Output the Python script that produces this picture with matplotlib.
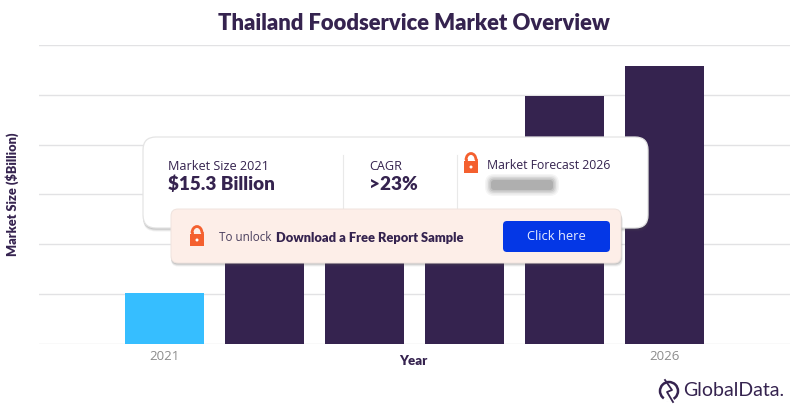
import matplotlib
matplotlib.use("Agg")
import matplotlib.pyplot as plt
from matplotlib.patches import FancyBboxPatch, Rectangle, Circle, Arc, Wedge
from matplotlib.lines import Line2D

years = ["2021", "2022", "2023", "2024", "2025", "2026"]
values = [15.3, 27.0, 36.0, 48.0, 74.6, 83.7]
tick_labels = {"2021": "2021", "2026": "2026"}
title = "Thailand Foodservice Market Overview"

NAVY = "#35234F"
CYAN = "#36BEFF"
GRID = "#E2E2E4"
ORANGE = "#F4602F"
BOLD = ["Lato", "DejaVu Sans"]
BODY = ["Open Sans", "DejaVu Sans"]

W, H = 800, 404
fig = plt.figure(figsize=(8, 4.04), dpi=100, facecolor="white")
plt.rcParams["font.family"] = BODY

left, right, top, bottom = 39, 790, 45, 343.5
ax = fig.add_axes([left / W, 1 - bottom / H, (right - left) / W, (bottom - top) / H])
pos = list(range(len(years)))
colors = [CYAN] + [NAVY] * 5
ax.bar(pos, values, width=0.79, color=colors, zorder=3)
ax.set_xlim(-1.25, 6.26)
ax.set_ylim(0, 90)
ax.set_yticks(range(0, 91, 15))
ax.set_yticklabels([])
ax.tick_params(axis="both", length=0)
ax.grid(axis="y", color=GRID, lw=1.0, zorder=0)
ax.set_axisbelow(True)
for s in ax.spines.values():
    s.set_visible(False)
ax.set_xticks(pos)
ax.set_xticklabels([tick_labels.get(y, "") for y in years], color="#8C8C8C", fontsize=9.5)
ax.tick_params(axis="x", pad=5)
ax.patch.set_alpha(0)

# Overlay in pixel coordinates
ov = fig.add_axes([0, 0, 1, 1], zorder=5)
ov.set_xlim(0, W)
ov.set_ylim(H, 0)
ov.axis("off")
ov.patch.set_alpha(0)


def rbox(x0, y0, x1, y1, r, fc, ec="none", lw=0, z=1, alpha=None):
    p = FancyBboxPatch((x0 + r, y0 + r), x1 - x0 - 2 * r, y1 - y0 - 2 * r,
                       boxstyle=f"round,pad={r},rounding_size={r}",
                       fc=fc, ec=ec, lw=lw, zorder=z, alpha=alpha)
    ov.add_patch(p)


def lock(cx, cy, z=8):
    ov.add_patch(Rectangle((cx - 7, cy - 2), 14, 11.5, fc=ORANGE, ec="none", zorder=z))
    ov.add_patch(Arc((cx, cy - 3), 10, 13, theta1=180, theta2=360, ec=ORANGE, lw=2, zorder=z))
    ov.add_line(Line2D([cx - 5, cx - 5], [cy - 3, cy - 1], color=ORANGE, lw=2, zorder=z))
    ov.add_line(Line2D([cx + 5, cx + 5], [cy - 3, cy - 1], color=ORANGE, lw=2, zorder=z))
    ov.add_patch(Circle((cx, cy + 4), 1.5, fc="white", ec="none", zorder=z + 1))


# main card
for d, a in ((3.5, .08), (2.5, .12), (1.5, .18)):
    rbox(143, 138 + d, 648 + d / 2, 228 + d, 13, "#555555", z=1, alpha=a)
rbox(143, 137, 648, 228, 13, "white", ec="#E4E4E4", lw=0.9, z=2)
ov.add_line(Line2D([342.5, 342.5], [155, 209], color="#E9E9E9", lw=0.8, zorder=3))
ov.add_line(Line2D([457, 457], [155, 209], color="#E9E9E9", lw=0.8, zorder=3))

ov.text(168, 166.5, "Market Size 2021", fontsize=9.1, color=NAVY, va="center", zorder=4)
ov.text(168, 184, "$15.3 Billion", fontsize=13.6, weight="heavy", color=NAVY, va="center", zorder=4, family=BOLD)
ov.text(369, 166.5, "CAGR", fontsize=9.1, color=NAVY, va="center", zorder=4)
ov.text(369, 184.5, ">23%", fontsize=13.6, weight="heavy", color=NAVY, va="center", zorder=4, family=BOLD)
ov.text(487, 165.5, "Market Forecast 2026", fontsize=8.8, color=NAVY, va="center", zorder=4)
lock(471, 163)

# blurred value
for pad, a in ((6, .05), (4.5, .07), (3, .10), (1.5, .13), (0, .17)):
    rbox(491 - pad, 180 - pad, 553 + pad, 190 + pad, 3 + pad, "#4A4A4A", z=4, alpha=a)

# banner
for d, a in ((3.5, .08), (2.5, .12), (1.5, .18)):
    rbox(171, 210 + d, 621 + d / 2, 263 + d, 7, "#555555", z=5, alpha=a)
rbox(171, 209, 621, 263, 7, "#FDEEE8", ec="#EFE3DE", lw=0.7, z=6)
lock(197, 236)
ov.text(219, 237.5, "To unlock", fontsize=8.4, color="#4A3F5E", va="center", zorder=8)
ov.text(276, 237.5, "Download a Free Report Sample", fontsize=9.3, weight="heavy",
        color=NAVY, va="center", zorder=8, family=BOLD)
rbox(503, 221, 610, 252, 4, "#0437E6", z=8)
ov.text(556.5, 237, "Click here", fontsize=9.3, color="#E8ECFF", ha="center", va="center", zorder=9)

# titles
ov.text(414, 23, title, fontsize=15.85, weight="heavy", color=NAVY, ha="center", va="center", family=BOLD)
ov.text(12.5, 194, "Market Size ($Billion)", fontsize=9.2, weight="heavy", color=NAVY, rotation=90,
        ha="center", va="center", family=BOLD)
ov.text(413, 361, "Year", fontsize=9.5, weight="heavy", color=NAVY, ha="center", va="center", family=BOLD)

# logo
ov.add_patch(Circle((669, 391), 9, fc="none", ec=NAVY, lw=1.8))
ov.add_patch(Wedge((669, 391), 11, 60, 125, fc="white", ec="none", zorder=3))
ov.add_line(Line2D([665, 672, 667, 673], [380, 390, 392, 402], color=NAVY, lw=1.3, zorder=4))
ov.text(683, 391, "GlobalData.", fontsize=14, color=NAVY, va="center", family=BOLD)

fig.savefig("out.png", dpi=100, facecolor="white")
